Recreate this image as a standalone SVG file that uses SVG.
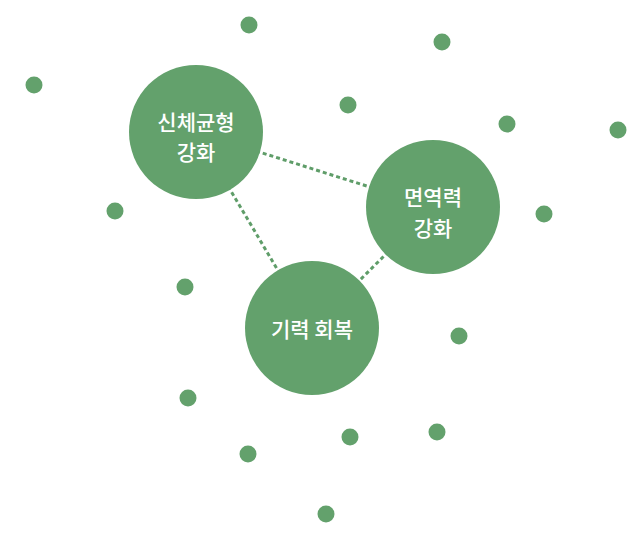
<svg xmlns="http://www.w3.org/2000/svg" width="638" height="544" viewBox="0 0 638 544">
<style>
.dot{fill:#63a16c}
.node{fill:#63a16c}
.lbl{fill:#ffffff;font-family:"Noto Sans CJK KR","Noto Sans",sans-serif;font-size:21px;font-weight:500;text-anchor:middle;dominant-baseline:central}
.conn{stroke:#5f9d69;stroke-width:3;stroke-dasharray:4 3;fill:none}
</style>
<rect width="638" height="544" fill="#ffffff"/>
<g id="dots">
<circle class="dot" cx="249" cy="25" r="8.5"/>
<circle class="dot" cx="442" cy="42" r="8.5"/>
<circle class="dot" cx="34" cy="85" r="8.5"/>
<circle class="dot" cx="348" cy="105" r="8.5"/>
<circle class="dot" cx="507" cy="124" r="8.5"/>
<circle class="dot" cx="618" cy="130" r="8.5"/>
<circle class="dot" cx="115" cy="211" r="8.5"/>
<circle class="dot" cx="544" cy="214" r="8.5"/>
<circle class="dot" cx="185" cy="287" r="8.5"/>
<circle class="dot" cx="459" cy="336" r="8.5"/>
<circle class="dot" cx="188" cy="398" r="8.5"/>
<circle class="dot" cx="350" cy="437" r="8.5"/>
<circle class="dot" cx="437" cy="432" r="8.5"/>
<circle class="dot" cx="248" cy="454" r="8.5"/>
<circle class="dot" cx="326" cy="514" r="8.5"/>
</g>
<g id="connectors">
<line class="conn" x1="196" y1="132" x2="433" y2="207"/>
<line class="conn" x1="196" y1="132" x2="312" y2="328"/>
<line class="conn" x1="433" y1="207" x2="312" y2="328"/>
</g>
<g id="node-balance">
<circle class="node" cx="196" cy="132" r="67"/>
<text class="lbl" x="196" y="121">신체균형</text>
<text class="lbl" x="196" y="151">강화</text>
</g>
<g id="node-immunity">
<circle class="node" cx="433" cy="207" r="67"/>
<text class="lbl" x="433" y="196">면역력</text>
<text class="lbl" x="433" y="227">강화</text>
</g>
<g id="node-vitality">
<circle class="node" cx="312" cy="328" r="67"/>
<text class="lbl" x="312" y="328">기력 회복</text>
</g>
</svg>
